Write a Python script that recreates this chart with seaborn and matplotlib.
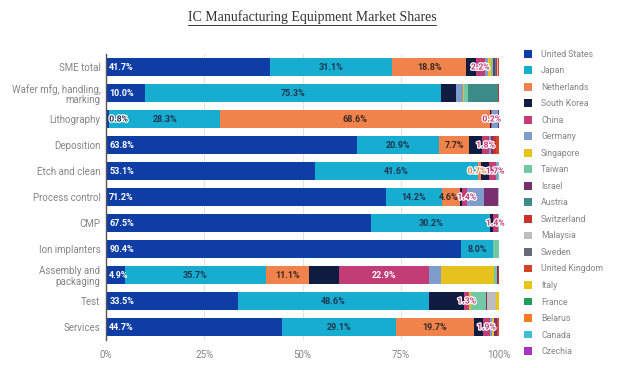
import pandas as pd
import matplotlib
matplotlib.use("Agg")
import matplotlib.pyplot as plt
import matplotlib.patheffects as pe
from matplotlib.patches import Patch
from matplotlib.lines import Line2D
import seaborn as sns

# ── data (shares in %, one list per country, rows top to bottom) ──
categories = ["SME total", "Wafer mfg, handling,\nmarking", "Lithography", "Deposition",
              "Etch and clean", "Process control", "CMP", "Ion implanters",
              "Assembly and\npackaging", "Test", "Services"]

countries = ["United States", "Japan", "Netherlands", "South Korea", "China", "Germany",
             "Singapore", "Taiwan", "Israel", "Austria", "Switzerland", "Malaysia",
             "Sweden", "United Kingdom", "Italy", "France", "Belarus", "Canada", "Czechia"]

united_states  = [41.7, 10.0, 0.8, 63.8, 53.1, 71.2, 67.5, 90.4, 4.9, 33.5, 44.7]
japan          = [31.1, 75.3, 28.3, 20.9, 41.6, 14.2, 30.2, 8.0, 35.7, 48.6, 29.1]
netherlands    = [18.8, 0, 68.6, 7.7, 0.7, 4.6, 0, 0, 11.1, 0, 19.7]
south_korea    = [2.5, 3.8, 0.3, 3.2, 2.0, 0.5, 0.6, 0, 7.6, 9.0, 2.3]
china          = [2.2, 0, 0.2, 1.8, 1.7, 1.4, 1.4, 0, 22.9, 1.3, 1.9]
germany        = [0.8, 1.7, 1.5, 0.5, 0.6, 4.3, 0, 0, 2.9, 0, 0.5]
singapore      = [0.8, 0.3, 0, 0, 0, 0, 0, 0, 13.5, 0.4, 0.5]
taiwan         = [0.5, 1.0, 0, 0, 0.3, 0, 0.3, 1.6, 0.8, 3.8, 0]
israel         = [0.6, 0, 0.3, 0.5, 0, 3.6, 0, 0, 0.3, 0.4, 0.8]
austria        = [0.3, 7.5, 0, 0, 0, 0, 0, 0, 0, 0, 0]
switzerland    = [0.2, 0.4, 0, 0.8, 0, 0, 0, 0, 0.3, 0, 0]
malaysia       = [0.2, 0, 0, 0, 0, 0.2, 0, 0, 0, 2.2, 0]
sweden         = [0.1, 0, 0, 0, 0, 0, 0, 0, 0, 0, 0]
united_kingdom = [0.1, 0, 0, 0.8, 0, 0, 0, 0, 0, 0, 0.5]
italy          = [0.1, 0, 0, 0, 0, 0, 0, 0, 0, 0.8, 0]
france         = [0] * 11
belarus        = [0] * 11
canada         = [0] * 11
czechia        = [0] * 11

colors = ["#0E3DA6", "#17ADD0", "#F0824C", "#0F1B40", "#C23C76", "#7F9DCC",
          "#E7C11E", "#72C8A3", "#7A2F6E", "#3B8B88", "#C9302C", "#BDBDBD",
          "#666A78", "#D2452A", "#E9C41C", "#1E9E5A", "#F47B20", "#3CC0D6", "#A831C0"]

series = [united_states, japan, netherlands, south_korea, china, germany, singapore,
          taiwan, israel, austria, switzerland, malaysia, sweden, united_kingdom,
          italy, france, belarus, canada, czechia]

rows = []
for country, vals in zip(countries, series):
    for cat, v in zip(categories, vals):
        rows.append({"category": cat, "country": country, "share": v})
df = pd.DataFrame(rows)
df["country"] = pd.Categorical(df["country"], countries, ordered=True)
df = df.sort_values(["category", "country"])
df["cum"] = df.groupby("category")["share"].cumsum()
df["left"] = df["cum"] - df["share"]

# ── chart ──
sns.set_theme(style="white")
plt.rcParams["font.family"] = ["Roboto", "DejaVu Sans"]

fig = plt.figure(figsize=(6.24, 3.68), dpi=100)
ax = fig.add_axes([0.170, 0.076, 0.630, 0.777])

# stacked bars: draw cumulative totals from the last country back to the first
for country, col in reversed(list(zip(countries, colors))):
    sub = df[df["country"] == country]
    sns.barplot(data=sub, x="cum", y="category", order=categories, orient="h",
                color=col, saturation=1, width=0.68, errorbar=None, ax=ax,
                linewidth=0)

# value labels (only the four leading countries carry labels)
label_style = {"United States": ("white", "left"), "Japan": ("#1F3550", "center"),
               "Netherlands": ("#3A2A20", "center"), "China": ("white", "center")}
ypos = {c: i for i, c in enumerate(categories)}
labelled = df[df["country"].isin(list(label_style)) & (df["share"] > 0)]

for cat, grp in labelled.groupby("category", sort=False):
    items = []
    for _, r in grp.iterrows():
        col, ha = label_style[r["country"]]
        x = r["left"] + 0.8 if ha == "left" else r["left"] + r["share"] / 2
        small = r["share"] < 3
        if small:
            col = "#1F3550" if r["country"] == "United States" else colors[countries.index(r["country"])]
        items.append([x, ha, col, small, f"{r['share']:.1f}%"])
    # nudge crowded centred labels apart
    for a, b in zip(items, items[1:]):
        if a[1] == "center" and b[1] == "center":
            gap = b[0] - a[0]
            if gap < 4.6:
                d = (4.6 - gap) / 2
                a[0] -= d
                b[0] += d
    for x, ha, col, small, txt in items:
        effects = [pe.withStroke(linewidth=1.8, foreground="white")] if small else None
        ax.text(x, ypos[cat], txt, ha=ha, va="center", fontsize=6.2 if small else 6.5,
                fontweight="bold", color=col, path_effects=effects)

ax.set_xlim(0, 100)
ax.set_ylim(10.5, -0.5)
ax.set_xticks([0, 25, 50, 75, 100])
ax.set_xticklabels(["0%", "25%", "50%", "75%", "100%"])
ax.xaxis.grid(True, color="#E3E3E3", linewidth=0.8)
ax.set_axisbelow(True)
ax.set_xlabel("")
ax.set_ylabel("")
for s in ["top", "right", "bottom"]:
    ax.spines[s].set_visible(False)
ax.spines["left"].set_color("#555555")
ax.spines["left"].set_linewidth(1.0)
ax.tick_params(axis="both", length=0, labelsize=7, colors="#858585")
ax.tick_params(axis="x", pad=7)
ax.tick_params(axis="y", pad=4)
for lab in ax.get_yticklabels():
    lab.set_horizontalalignment("right")
    lab.set_linespacing(1.1)

# legend
handles = [Patch(facecolor=c, edgecolor="none") for c in colors]
fig.legend(handles, countries, loc="upper left", bbox_to_anchor=(0.832, 0.877),
           frameon=False, fontsize=6.3, handlelength=1.0, handleheight=1.0,
           handletextpad=1.0, labelspacing=0.86, borderpad=0, labelcolor="#858585")

# title with underline
title = fig.text(0.5, 0.972, "IC Manufacturing Equipment Market Shares", ha="center",
                 va="top", fontsize=10, family="Liberation Serif", color="#333333")
fig.canvas.draw()
bb = title.get_window_extent()
W, H = fig.bbox.width, fig.bbox.height
fig.add_artist(Line2D([bb.x0 / W, bb.x1 / W], [(bb.y0 - 1) / H] * 2,
                      transform=fig.transFigure, color="#333333", linewidth=0.7))

fig.savefig("out.png", dpi=100)
